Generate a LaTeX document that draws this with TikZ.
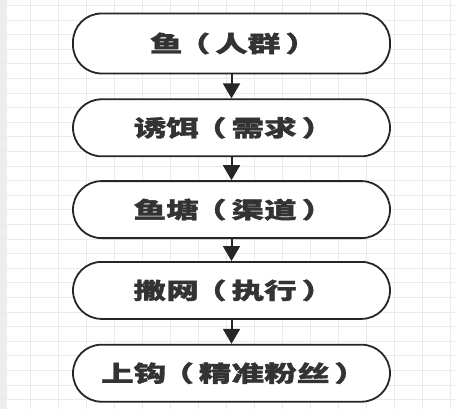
\documentclass[tikz,border=0pt]{standalone}
\usepackage{fontspec}
\newfontfamily\cjk[FakeStretch=1.45,BoldFeatures={FakeBold=1.4}]{Noto Sans CJK SC}
\newcommand\lpar{\kern-0.22em（\kern0.22em}
\newcommand\rpar{\kern0.22em）\kern-0.22em}
\usetikzlibrary{positioning,arrows.meta}
\begin{document}
\begin{tikzpicture}[x=1pt,y=1pt,
    stage/.style={draw=black!85,line width=1.8pt,fill=white,rounded corners=28.5pt,
      minimum width=317pt,minimum height=57pt,inner sep=0pt,
      font=\cjk\bfseries\fontsize{22.5}{24}\selectfont,text=black!80},
    grid/.style={draw=black!8,line width=0.8pt},
    flow/.style={draw=black!85,line width=2pt,-{Triangle[width=17pt,length=15pt]}}]
      \useasboundingbox (0,0) rectangle (455,-409);
      \fill[black!7] (0,0) rectangle (7,-409);
      \foreach \x in {0,...,16}
        \draw[grid] (2+28*\x,0) -- (2+28*\x,-409);
      \foreach \y in {0,...,27}
        \draw[grid] (0,-5.4-14.6*\y) -- (455,-5.4-14.6*\y);
      \node[stage,minimum height=60pt] (fish) at (231.5,-43.5) {鱼\lpar 人群\rpar};
      \node[stage,below=24pt of fish] (bait) {诱饵\lpar 需求\rpar};
      \node[stage,below=23pt of bait] (pond) {鱼塘\lpar 渠道\rpar};
      \node[stage,below=22pt of pond] (net) {撒网\lpar 执行\rpar};
      \node[stage,below=24pt of net] (hook) {上钩\lpar 精准粉丝\rpar};
      \begin{scope}[flow]
        \draw (fish) to (bait);
        \draw (bait) to (pond);
        \draw (pond) to (net);
        \draw (net) to (hook);
      \end{scope}
    \end{tikzpicture}
\end{document}
